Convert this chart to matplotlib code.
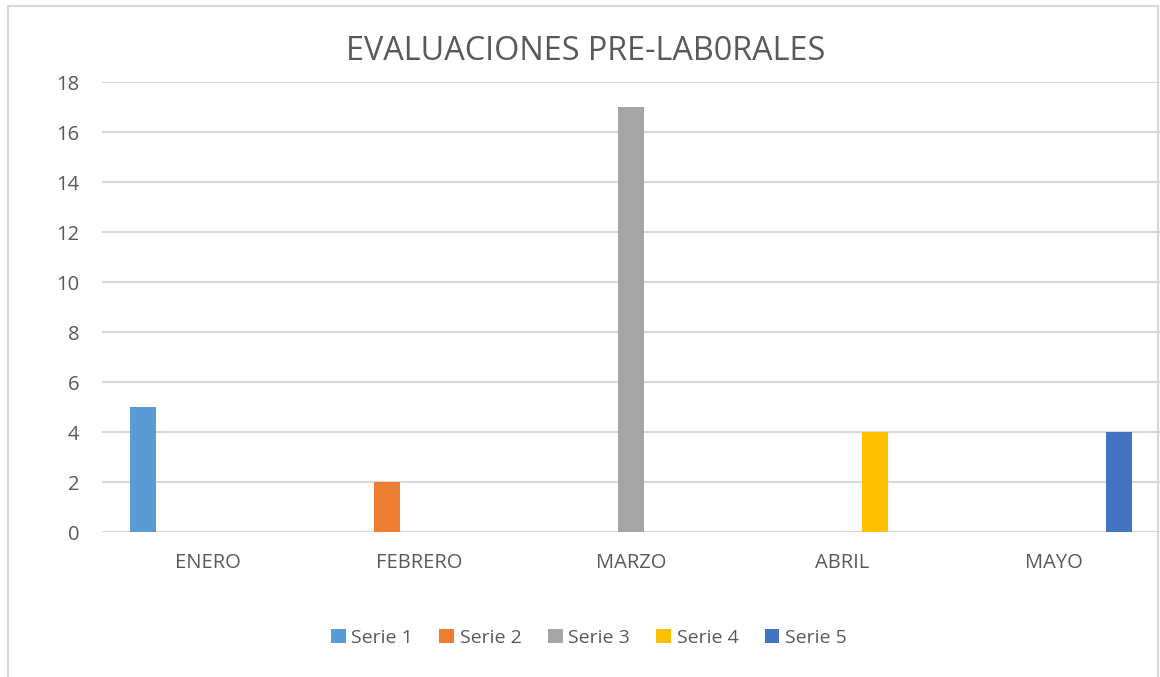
import matplotlib
matplotlib.use("Agg")
import matplotlib.pyplot as plt
from matplotlib.patches import Rectangle
import numpy as np

categories = ["ENERO", "FEBRERO", "MARZO", "ABRIL", "MAYO"]
series_names = ["Serie 1", "Serie 2", "Serie 3", "Serie 4", "Serie 5"]
serie1 = [5, 0, 0, 0, 0]
serie2 = [0, 2, 0, 0, 0]
serie3 = [0, 0, 17, 0, 0]
serie4 = [0, 0, 0, 4, 0]
serie5 = [0, 0, 0, 0, 4]
series_values = [serie1, serie2, serie3, serie4, serie5]
colors = ["#5B9BD5", "#ED7D31", "#A5A5A5", "#FFC000", "#4472C4"]
title = "EVALUACIONES PRE-LAB0RALES"

plt.rcParams['font.family'] = ['Open Sans', 'DejaVu Sans']
W, H = 1160, 677
fig = plt.figure(figsize=(W / 100, H / 100), dpi=100)
txt = "#595959"

ax = fig.add_axes([102 / W, 1 - 532 / H, (1160 - 102) / W, (532 - 82) / H])
x = np.arange(len(categories))
bw = 26 / 211.75
step = 32.5 / 211.75
handles = []
for k, (name, vals, c) in enumerate(zip(series_names, series_values, colors)):
    h = ax.bar(x + (k - 2) * step, vals, width=bw, color=c, label=name, zorder=3)
    handles.append(h)

ax.set_xlim(-0.5, 4.5)
ax.set_ylim(0, 18)
ax.set_yticks(range(0, 19, 2))
ax.set_xticks(x)
ax.set_xticklabels(categories)
ax.grid(axis='y', color="#D9D9D9", linewidth=1.5, zorder=0)
for s in ax.spines.values():
    s.set_visible(False)
ax.tick_params(axis='both', length=0, colors=txt, labelsize=14.5)
ax.tick_params(axis='x', pad=15)
ax.tick_params(axis='y', pad=16.5)

fig.text(585.5 / W, 1 - 51 / H, title, ha='center', va='center', fontsize=23.3, color=txt)

fig.legend(handles=handles, labels=series_names, loc='center',
           bbox_to_anchor=(589 / W, 1 - 638 / H), ncol=5, frameon=False,
           fontsize=14, labelcolor=txt, handlelength=0.75, handleheight=0.75,
           handletextpad=0.3, columnspacing=1.35)

fig.patches.append(Rectangle((8 / W, -0.05), 1150 / W, 1.05 - 6 / H,
                             transform=fig.transFigure, fill=False,
                             edgecolor="#D9D9D9", linewidth=1.5))

fig.savefig("out.png", dpi=100)
